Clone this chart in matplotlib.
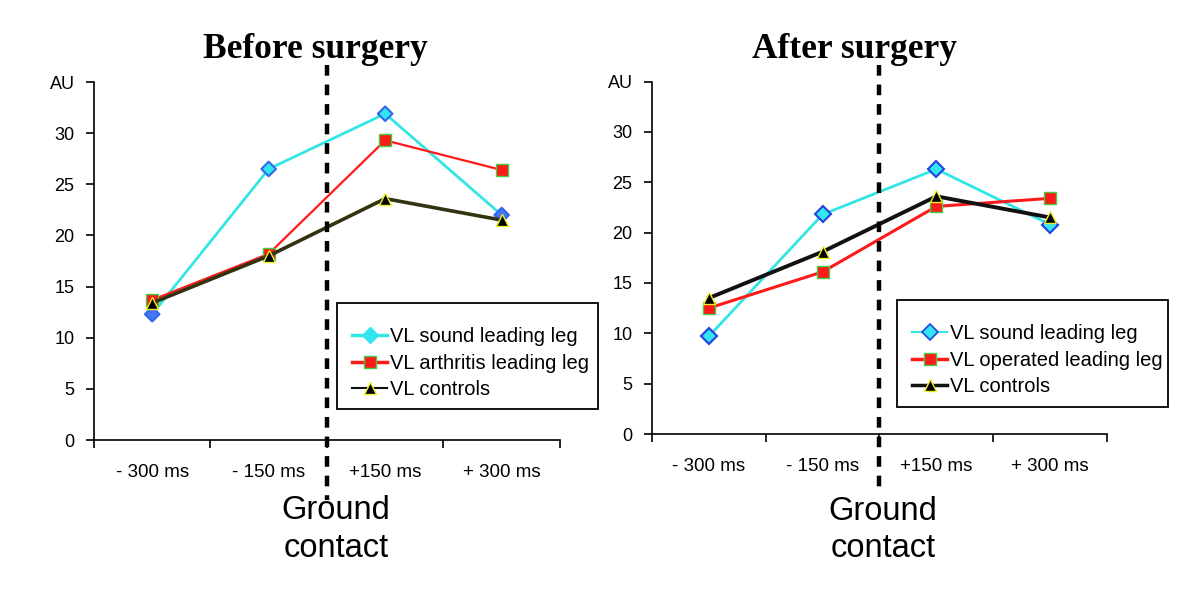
import matplotlib
matplotlib.use("Agg")
import matplotlib.pyplot as plt
from matplotlib.lines import Line2D
from matplotlib.patches import Rectangle

categories = ["- 300 ms", "- 150 ms", "+150 ms", "+ 300 ms"]

before_sound = [12.3, 26.5, 31.9, 22.0]
before_arthritis = [13.7, 18.2, 29.3, 26.4]
before_controls = [13.4, 18.0, 23.6, 21.5]

after_sound = [9.7, 21.8, 26.3, 20.8]
after_operated = [12.5, 16.1, 22.6, 23.4]
after_controls = [13.5, 18.1, 23.6, 21.5]

before_labels = ["VL sound leading leg", "VL arthritis leading leg", "VL controls"]
after_labels = ["VL sound leading leg", "VL operated leading leg", "VL controls"]

yticks = [0, 5, 10, 15, 20, 25, 30]

SANS = "Liberation Sans"
SERIF = "Liberation Serif"

fig = plt.figure(figsize=(12, 6.13), dpi=100)
ax1 = fig.add_axes([0.0783, 0.2822, 0.3883, 0.584])
ax2 = fig.add_axes([0.5433, 0.292, 0.3792, 0.575])

xpos = [i + 0.5 for i in range(len(categories))]


def style_axis(ax):
    ax.set_xlim(0, 4)
    ax.set_ylim(0, 35)
    for s in ["top", "right"]:
        ax.spines[s].set_visible(False)
    ax.spines["left"].set_linewidth(1.2)
    ax.spines["bottom"].set_linewidth(1.2)
    ax.set_yticks(yticks + [35])
    ax.set_yticklabels([str(v) for v in yticks] + ["AU"], fontfamily=SANS, fontsize=13)
    ax.set_xticks([0, 1, 2, 3, 4])
    ax.set_xticklabels([])
    ax.set_xticks(xpos, minor=True)
    ax.set_xticklabels(categories, minor=True, fontfamily=SANS, fontsize=13.5)
    ax.tick_params(axis="x", which="minor", length=0, pad=17)
    ax.tick_params(axis="x", which="major", length=6, width=1.2, direction="out")
    ax.tick_params(axis="y", length=6, width=1.2, direction="out", pad=8)


style_axis(ax1)
style_axis(ax2)

CYAN = "#33e5e5"
RED = "#ff1a1a"

# Before surgery
ax1.plot(xpos, before_sound, color=CYAN, lw=2, zorder=3)
ax1.scatter(xpos, before_sound, marker="D", s=55,
            c=["#4477ee", "#33e5f0", "#33e5f0", "#4477ee"],
            edgecolors="#3366ee", linewidths=1.5, zorder=3.5)
ax1.plot(xpos, before_arthritis, color=RED, lw=1.6, marker="s", ms=9,
         mfc=RED, mec="#44cc44", mew=1, zorder=4)
ax1.plot(xpos, before_controls, color="#333311", lw=2.6, marker="^", ms=9,
         mfc="black", mec="#eeee22", mew=1, zorder=5)

# After surgery
ax2.plot(xpos, after_sound, color=CYAN, lw=2, marker="D", ms=8,
         mfc="#33e5f0", mec="#2244dd", mew=1.5, zorder=3)
ax2.plot(xpos, after_operated, color=RED, lw=2.2, marker="s", ms=9,
         mfc=RED, mec="#44cc44", mew=1, zorder=4)
ax2.plot(xpos, after_controls, color="#111111", lw=2.8, marker="^", ms=9,
         mfc="black", mec="#eeee22", mew=1, zorder=5)

# Ground contact dashed lines
ax1.plot([2.0, 2.0], [36.7, -5.9], color="black", lw=3.2, ls=(0, (2.4, 2.0)),
         clip_on=False, zorder=6)
ax2.plot([2.0, 2.0], [36.6, -5.9], color="black", lw=3.2, ls=(0, (2.4, 2.0)),
         clip_on=False, zorder=6)

# legend boxes (figure coords) and legends
boxes = [(337, 598, 303, 409), (897, 1168, 300, 407)]
handles_before = [
    Line2D([], [], color=CYAN, lw=2.5, marker="D", ms=8, mfc="#33e5f0", mec="#33e5f0"),
    Line2D([], [], color=RED, lw=2.5, marker="s", ms=9, mfc=RED, mec="#44cc44"),
    Line2D([], [], color="#111111", lw=1.5, marker="^", ms=9, mfc="black", mec="#eeee22"),
]
handles_after = [
    Line2D([], [], color=CYAN, lw=1.5, marker="D", ms=8, mfc="#33e5f0", mec="#2244dd", mew=1.2),
    Line2D([], [], color=RED, lw=2.5, marker="s", ms=9, mfc=RED, mec="#44cc44"),
    Line2D([], [], color="#111111", lw=2.5, marker="^", ms=9, mfc="black", mec="#eeee22"),
]
W, H = 1200.0, 613.0
for ax, (x0, x1, y0, y1), handles, labels, hx in [
        (ax1, boxes[0], handles_before, before_labels, 352),
        (ax2, boxes[1], handles_after, after_labels, 912)]:
    rect = Rectangle((x0 / W, 1 - y1 / H), (x1 - x0) / W, (y1 - y0) / H,
                     transform=fig.transFigure, facecolor="white",
                     edgecolor="black", linewidth=1.3, clip_on=False, zorder=6.5)
    ax.add_patch(rect)
    leg = ax.legend(handles, labels, loc="upper left",
                    bbox_to_anchor=(hx / W, 1 - (y0 + 24) / H),
                    bbox_transform=fig.transFigure, frameon=False,
                    prop={"family": SANS, "size": 14.5}, handlelength=1.74,
                    handletextpad=0.15, borderpad=0, labelspacing=0.38,
                    borderaxespad=0)
    leg.set_zorder(7)

fig.text(315 / W, 1 - 50 / H, "Before surgery", ha="center", va="center",
         fontfamily=SERIF, fontweight="bold", fontsize=25.5)
fig.text(855 / W, 1 - 50 / H, "After surgery", ha="center", va="center",
         fontfamily=SERIF, fontweight="bold", fontsize=25.5)

for cx, b1, b2 in [(336, 519, 557), (883, 520, 557)]:
    fig.text(cx / W, 1 - b1 / H, "Ground", ha="center", va="baseline",
             fontfamily=SANS, fontsize=23.5)
    fig.text(cx / W, 1 - b2 / H, "contact", ha="center", va="baseline",
             fontfamily=SANS, fontsize=23.5)

fig.savefig("out.png", dpi=100, facecolor="white")
